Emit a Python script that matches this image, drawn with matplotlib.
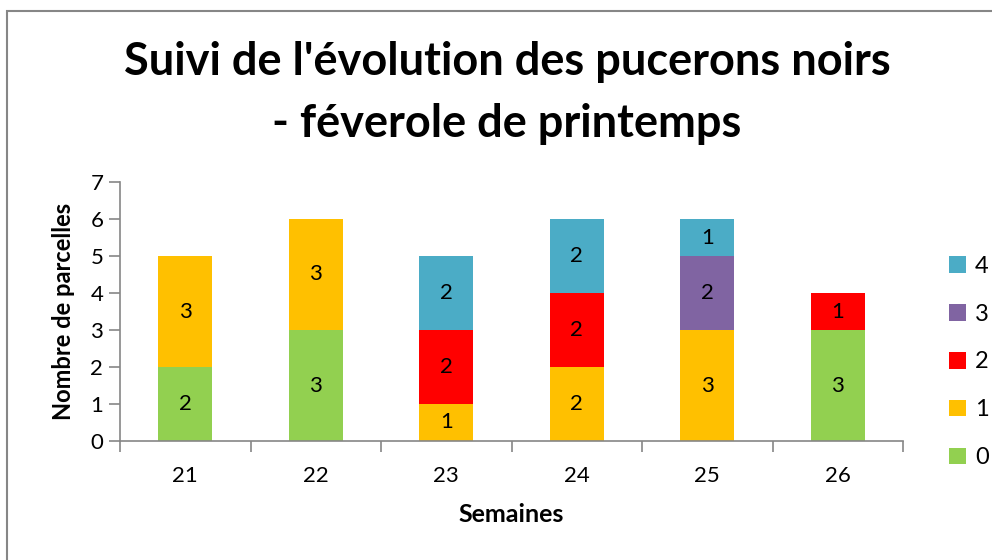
import numpy as np
import matplotlib
matplotlib.use("Agg")
import matplotlib.pyplot as plt
from matplotlib.patches import Rectangle

plt.rcParams['font.family'] = ['Lato', 'DejaVu Sans']

# data
semaines = ["21", "22", "23", "24", "25", "26"]
niveaux = ["0", "1", "2", "3", "4"]
n0 = [2, 3, 0, 0, 0, 3]
n1 = [3, 3, 1, 2, 3, 0]
n2 = [0, 0, 2, 2, 0, 1]
n3 = [0, 0, 0, 0, 2, 0]
n4 = [0, 0, 2, 2, 1, 0]
couleurs = ["#92D050", "#FFC000", "#FF0000", "#8064A2", "#4BACC6"]

series = [n0, n1, n2, n3, n4]
grey = "#868686"

fig = plt.figure(figsize=(9.92, 5.6), dpi=100)
ax = fig.add_axes([120/992, 1 - 441/560, (903 - 120)/992, (441 - 182)/560])

# outer chart border
fig.patches.append(Rectangle((7/992, -0.1), 1.2, 1 - 11/560 + 0.1,
                             transform=fig.transFigure, fill=False,
                             edgecolor=grey, linewidth=1.5))

x = np.arange(len(semaines))
bottom = np.zeros(len(semaines))
for vals, col, lab in zip(series, couleurs, niveaux):
    vals = np.array(vals)
    ax.bar(x, vals, width=0.41, bottom=bottom, color=col, label=lab)
    for xi, v, bt in zip(x, vals, bottom):
        if v > 0:
            ax.text(xi, bt + v / 2, str(v), ha="center", va="center",
                    fontsize=16, color="black")
    bottom += vals

ax.set_xlim(-0.5, len(semaines) - 0.5)
ax.set_ylim(0, 7)
ax.set_yticks(range(8))
ax.set_xticks(x)
ax.set_xticklabels(semaines)
ax.set_xticks(np.arange(-0.5, len(semaines)), minor=True)
ax.tick_params(axis="x", which="major", length=0, labelsize=16, pad=18)
ax.tick_params(axis="x", which="minor", length=8, color=grey, width=1.2)
ax.tick_params(axis="y", length=8, color=grey, width=1.2, labelsize=16, pad=4)

for s in ["top", "right"]:
    ax.spines[s].set_visible(False)
for s in ["left", "bottom"]:
    ax.spines[s].set_color(grey)
    ax.spines[s].set_linewidth(1.2)

ax.set_ylabel("Nombre de parcelles", fontsize=17, fontweight="bold", labelpad=11)
ax.set_xlabel("Semaines", fontsize=18, fontweight="bold", labelpad=12)

fig.text(507/992, 1 - 62/560, "Suivi de l'évolution des pucerons noirs",
         ha="center", va="center", fontsize=32.5, fontweight="bold")
fig.text(507/992, 1 - 124/560, "- féverole de printemps",
         ha="center", va="center", fontsize=32.5, fontweight="bold")

h, l = ax.get_legend_handles_labels()
fig.legend(h[::-1], l[::-1], loc="center left",
           bbox_to_anchor=(928/992, 1 - 362/560), frameon=False,
           fontsize=17, handlelength=0.7, handleheight=0.7,
           handletextpad=0.4, labelspacing=1.14)

fig.savefig("out.png", dpi=100)
